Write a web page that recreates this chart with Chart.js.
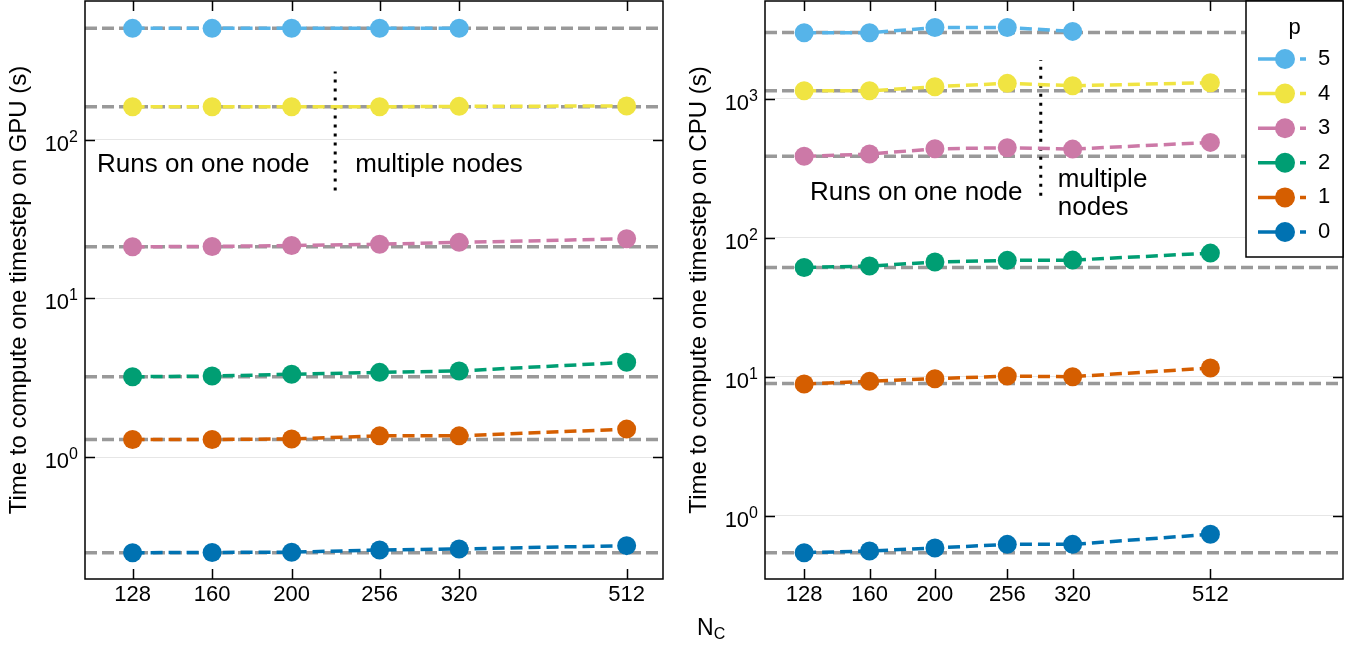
<!DOCTYPE html>
<html>
<head>
<meta charset="utf-8">
<script src="https://cdn.jsdelivr.net/npm/chart.js@4"></script>
<style>
  body { margin: 0; background: #fff; width: 1362px; height: 650px; position: relative; overflow: hidden;
         font-family: "Liberation Sans", Arial, sans-serif; }
  canvas { position: absolute; top: 0; }
  #gpu { left: 0; }
  #cpu { left: 680px; }
  #xlabel { position: absolute; left: 697px; top: 616px; font-size: 23px; line-height: 1; color: #000; }
  #xlabel sub { font-size: 16px; vertical-align: -4px; }
</style>
</head>
<body>
<canvas id="gpu" width="680" height="650"></canvas>
<canvas id="cpu" width="682" height="650"></canvas>
<div id="xlabel">N<sub>C</sub></div>
<script>
const FONT = '"Liberation Sans", Arial, sans-serif';

const nc = [128, 160, 200, 256, 320, 512];
const pOrder = [5, 4, 3, 2, 1, 0];
const colors = ["#0072B2", "#D55E00", "#009E73", "#CC79A7", "#F0E442", "#56B4E9"]; // p = 0..5

// GPU timings (s), one array per p
const gpu_p0 = [0.249, 0.250, 0.251, 0.259, 0.263, 0.276];
const gpu_p1 = [1.29, 1.29, 1.30, 1.36, 1.36, 1.50];
const gpu_p2 = [3.21, 3.24, 3.33, 3.42, 3.49, 3.96];
const gpu_p3 = [21.2, 21.3, 21.6, 22.0, 22.6, 23.8];
const gpu_p4 = [162, 162, 162, 162, 163, 164];
const gpu_p5 = [506, 506, 507, 507, 507];
const gpu_ref = [0.249, 1.29, 3.21, 21.2, 162, 507];

// CPU timings (s)
const cpu_p0 = [0.542, 0.557, 0.586, 0.622, 0.622, 0.735];
const cpu_p1 = [8.85, 9.26, 9.68, 10.1, 10.0, 11.55];
const cpu_p2 = [61.1, 62.5, 66.8, 68.7, 69.0, 77.5];
const cpu_p3 = [385, 400, 436, 444, 434, 485];
const cpu_p4 = [1142, 1140, 1220, 1290, 1240, 1304];
const cpu_p5 = [2980, 2980, 3250, 3250, 3050];
const cpu_ref = [0.542, 8.95, 61.1, 385, 1140, 3000];

// one node / multiple nodes divider
const gpu_split_x = 226;
const gpu_split_y = [48, 270];
const cpu_split_x = 287;
const cpu_split_y = [200, 1900];

const framePlugin = {
  id: "frame",
  afterDatasetsDraw(chart) {
    const { ctx, chartArea: a, scales: { x, y } } = chart;
    const cfg = chart.options.plugins.frame;
    ctx.save();
    ctx.strokeStyle = "#000";
    ctx.lineWidth = 1.5;
    ctx.setLineDash([]);
    ctx.strokeRect(a.left, a.top, a.right - a.left, a.bottom - a.top);
    ctx.beginPath();
    x.ticks.forEach(t => {
      const px = Math.round(x.getPixelForValue(t.value)) + 0.5;
      ctx.moveTo(px, a.top); ctx.lineTo(px, a.top + 10);
      ctx.moveTo(px, a.bottom); ctx.lineTo(px, a.bottom - 10);
    });
    y.ticks.forEach(t => {
      const py = Math.round(y.getPixelForValue(t.value)) + 0.5;
      ctx.moveTo(a.left, py); ctx.lineTo(a.left + 10, py);
      ctx.moveTo(a.right, py); ctx.lineTo(a.right - 10, py);
    });
    ctx.stroke();

    // y tick labels as 10 with a raised exponent
    ctx.fillStyle = "#000";
    ctx.textBaseline = "alphabetic";
    y.ticks.forEach(t => {
      const py = y.getPixelForValue(t.value);
      const e = String(Math.round(Math.log10(t.value)));
      ctx.font = "16px " + FONT;
      const ew = ctx.measureText(e).width;
      ctx.textAlign = "left";
      const right = a.left - 7;
      ctx.fillText(e, right - ew, py + 2);
      ctx.font = "22px " + FONT;
      ctx.textAlign = "right";
      ctx.fillText("10", right - ew, py + 11);
    });

    // annotation text
    ctx.font = "26px " + FONT;
    ctx.textBaseline = "middle";
    const sx = x.getPixelForValue(cfg.splitX);
    cfg.notes.forEach(n => {
      const px = n.from === "left" ? a.left + n.dx : sx + n.dx;
      ctx.textAlign = "left";
      ctx.fillText(n.text, px, y.getPixelForValue(n.y));
    });

    // legend
    if (cfg.legend) {
      const l = a.right - 97, t = a.top, r = a.right, b = a.top + 256;
      ctx.fillStyle = "#fff";
      ctx.fillRect(l, t, r - l, b - t);
      ctx.strokeStyle = "#000";
      ctx.lineWidth = 1.5;
      ctx.strokeRect(l, t, r - l, b - t);
      ctx.fillStyle = "#000";
      ctx.font = "22px " + FONT;
      ctx.textAlign = "center";
      ctx.fillText("p", (l + r) / 2, t + 27);
      const series = chart.data.datasets.filter(d => d.isSeries);
      series.forEach((d, i) => {
        const cy = t + 58 + i * 34.6;
        ctx.strokeStyle = d.borderColor;
        ctx.lineWidth = 3.5;
        ctx.beginPath();
        ctx.moveTo(l + 12, cy); ctx.lineTo(l + 44, cy);
        ctx.moveTo(l + 54, cy); ctx.lineTo(l + 60, cy);
        ctx.stroke();
        ctx.fillStyle = d.borderColor;
        ctx.beginPath();
        ctx.arc(l + 39, cy, 10, 0, Math.PI * 2);
        ctx.fill();
        ctx.fillStyle = "#000";
        ctx.textAlign = "left";
        ctx.fillText(d.label, l + 72, cy);
      });
    }
    ctx.restore();
  }
};

function makePanel(canvasId, series, ref, xMin, xMax, yMin, yMax, splitX, splitY, title, notes, legend, padRight) {
  const datasets = [];
  pOrder.forEach(p => {
    datasets.push({
      label: String(p),
      isSeries: true,
      data: series[p].map((v, i) => ({ x: nc[i], y: v })),
      borderColor: colors[p],
      backgroundColor: colors[p],
      borderWidth: 3.5,
      borderDash: [12, 6],
      pointRadius: 9.5,
      pointHoverRadius: 9.5,
      pointBorderWidth: 0,
      pointBackgroundColor: colors[p],
      order: 0
    });
  });
  datasets.push({
    label: "split",
    data: splitY.map(v => ({ x: splitX, y: v })),
    borderColor: "#000",
    borderWidth: 3,
    borderDash: [3, 6],
    pointRadius: 0,
    order: 1
  });
  ref.forEach((v, p) => {
    datasets.push({
      label: "ref" + p,
      data: [{ x: xMin, y: v }, { x: xMax, y: v }],
      borderColor: "#999999",
      borderWidth: 3.5,
      borderDash: [12, 5],
      pointRadius: 0,
      order: 2
    });
  });

  const decades = [];
  for (let e = Math.ceil(Math.log10(yMin)); e <= Math.floor(Math.log10(yMax)); e++) decades.push(Math.pow(10, e));

  return new Chart(document.getElementById(canvasId), {
    type: "line",
    data: { datasets },
    plugins: [framePlugin],
    options: {
      responsive: false,
      animation: false,
      devicePixelRatio: 1,
      layout: { autoPadding: false, padding: { top: 1, right: padRight, left: 0, bottom: 0 } },
      plugins: {
        legend: { display: false },
        tooltip: { enabled: false },
        frame: { splitX, notes, legend }
      },
      scales: {
        x: {
          type: "logarithmic",
          min: xMin, max: xMax, bounds: "data",
          afterBuildTicks: s => { s.ticks = nc.map(v => ({ value: v })); },
          afterFit: s => { s.height = 71; s.paddingLeft = 0; s.paddingRight = 0; },
          grid: { display: false, drawTicks: false },
          border: { display: false },
          ticks: { autoSkip: false, maxRotation: 0, padding: 3, color: "#000",
                   font: { family: FONT, size: 22 }, callback: v => String(v) }
        },
        y: {
          type: "logarithmic",
          min: yMin, max: yMax, bounds: "data",
          afterBuildTicks: s => { s.ticks = decades.map(v => ({ value: v })); },
          afterFit: s => { s.width = 85; s.paddingTop = 0; s.paddingBottom = 0; },
          grid: { color: "#e6e6e6", lineWidth: 1, drawTicks: false },
          border: { display: false },
          ticks: { display: false },
          title: { display: true, text: title, color: "#000",
                   font: { family: FONT, size: 24 }, padding: { top: 5, bottom: 0 } }
        }
      }
    }
  });
}

makePanel("gpu",
  [gpu_p0, gpu_p1, gpu_p2, gpu_p3, gpu_p4, gpu_p5], gpu_ref,
  112, 567, 0.170, 753, gpu_split_x, gpu_split_y,
  "Time to compute one timestep on GPU (s)",
  [{ text: "Runs on one node", from: "left", dx: 12, y: 69.5 },
   { text: "multiple nodes", from: "split", dx: 20, y: 69.5 }],
  false, 17);

makePanel("cpu",
  [cpu_p0, cpu_p1, cpu_p2, cpu_p3, cpu_p4, cpu_p5], cpu_ref,
  112, 805, 0.3504, 5047, cpu_split_x, cpu_split_y,
  "Time to compute one timestep on CPU (s)",
  [{ text: "Runs on one node", from: "left", dx: 45, y: 210 },
   { text: "multiple", from: "split", dx: 17, y: 260 },
   { text: "nodes", from: "split", dx: 17, y: 164 }],
  true, 19);
</script>
</body>
</html>
